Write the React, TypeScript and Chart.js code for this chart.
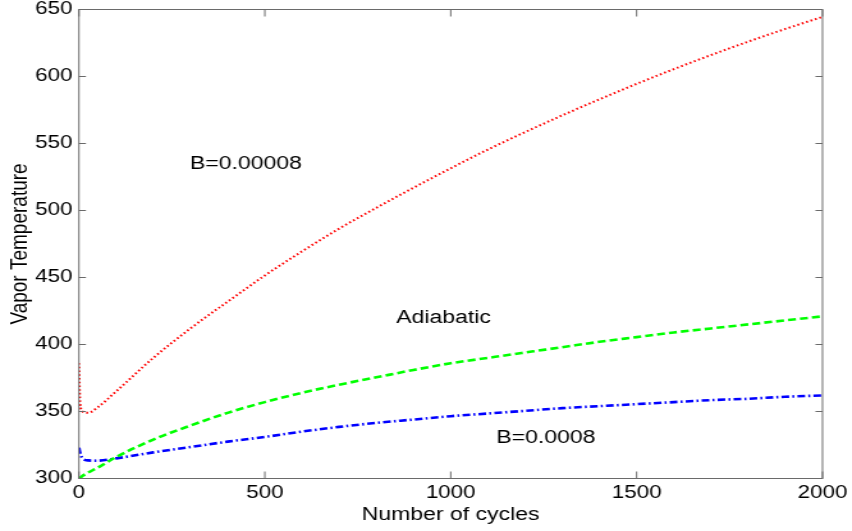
import React, { useEffect, useRef } from "react";
import { Chart, registerables } from "chart.js";

Chart.register(...registerables);

// ---- data ----
const cycles = [0, 3, 10, 25, 50, 100, 200, 300, 400, 500, 600, 700, 800, 900, 1000, 1100, 1200, 1300, 1400, 1500, 1600, 1700, 1800, 1900, 2000];
const tempB00008 = [386, 356, 350, 349, 353, 365, 390, 412, 432, 451.5, 469.5, 486.5, 502, 517, 531.5, 545.5, 558.5, 571, 583, 594.5, 605.5, 616, 626, 635.5, 644.5];
const tempAdiabatic = [300, 300.5, 302, 304.5, 308, 316, 329, 339.5, 349, 357, 364, 370, 375.5, 381, 386, 390, 394, 398, 402, 405.5, 409, 412, 415, 418, 421];
const tempB0008 = [323, 319, 315, 313.5, 313.3, 315, 319.5, 323.5, 327.5, 331, 335, 338.5, 341.5, 344, 346.5, 348.5, 350.5, 352.5, 354, 355.5, 357, 358.5, 359.5, 361, 362];

const annotationTexts = ["B=0.00008", "Adiabatic", "B=0.0008"];
const annotationCycles = [449, 981, 1256];
const annotationTemps = [535, 419.6, 330];

const xTitle = "Number of cycles";
const yTitle = "Vapor Temperature";

// ---- layout ----
const SCREEN_W = 852;
const SCREEN_H = 531;
const STRETCH = 1.28;
const W = Math.round(SCREEN_W / STRETCH);
const H = SCREEN_H;
const FONT = '"Liberation Sans", Arial, Helvetica, sans-serif';

const toPoints = (ys: number[]) => cycles.map((c, i) => ({ x: c, y: ys[i] }));

const boxPlugin = {
  id: "matlabBox",
  afterDatasetsDraw(chart: any) {
    const { ctx, chartArea: a, scales } = chart;
    const xs = scales.x;
    const ys = scales.y;
    ctx.save();
    ctx.strokeStyle = "#6a6a6a";
    ctx.lineWidth = 1;
    ctx.strokeRect(a.left, a.top, a.right - a.left, a.bottom - a.top);
    ctx.beginPath();
    const tlY = 5.5;
    const tlX = 7;
    ys.ticks.forEach((t: any) => {
      const py = ys.getPixelForValue(t.value);
      ctx.moveTo(a.left, py);
      ctx.lineTo(a.left + tlY, py);
      ctx.moveTo(a.right, py);
      ctx.lineTo(a.right - tlY, py);
    });
    xs.ticks.forEach((t: any) => {
      const px = xs.getPixelForValue(t.value);
      ctx.moveTo(px, a.bottom);
      ctx.lineTo(px, a.bottom - tlX);
      ctx.moveTo(px, a.top);
      ctx.lineTo(px, a.top + tlX);
    });
    ctx.stroke();

    ctx.fillStyle = "#000";
    ctx.font = `18px ${FONT}`;
    ctx.textAlign = "center";
    ctx.textBaseline = "middle";
    annotationTexts.forEach((txt, i) => {
      ctx.fillText(txt, xs.getPixelForValue(annotationCycles[i]), ys.getPixelForValue(annotationTemps[i]));
    });
    ctx.restore();
  },
};

export default function App() {
  const ref = useRef<HTMLCanvasElement>(null);

  useEffect(() => {
    const canvas = ref.current!;
    const chart = new Chart(canvas, {
      type: "line",
      data: {
        datasets: [
          {
            label: "B=0.00008",
            data: toPoints(tempB00008),
            borderColor: "#ff0000",
            borderWidth: 2,
            borderDash: [1.5, 2.2],
            pointRadius: 0,
            fill: false,
            cubicInterpolationMode: "monotone",
          },
          {
            label: "Adiabatic",
            data: toPoints(tempAdiabatic),
            borderColor: "#00ff00",
            borderWidth: 2.6,
            borderDash: [6.2, 3.2],
            pointRadius: 0,
            fill: false,
            cubicInterpolationMode: "monotone",
          },
          {
            label: "B=0.0008",
            data: toPoints(tempB0008),
            borderColor: "#0000ff",
            borderWidth: 2.6,
            borderDash: [6, 2.5, 1.5, 2.5],
            pointRadius: 0,
            fill: false,
            cubicInterpolationMode: "monotone",
          },
        ],
      },
      options: {
        responsive: false,
        animation: false,
        devicePixelRatio: 1,
        layout: { padding: { left: 0, right: W - 823 / STRETCH, top: 9.5, bottom: 0 } },
        plugins: {
          legend: { display: false },
          tooltip: { enabled: false },
        },
        scales: {
          x: {
            type: "linear",
            min: 0,
            max: 2000,
            grid: { display: false, drawTicks: false },
            border: { display: false },
            ticks: {
              stepSize: 500,
              color: "#000",
              padding: 4,
              maxRotation: 0,
              font: { family: FONT, size: 17.5 },
              callback: (v: any) => String(v),
            },
            title: {
              display: true,
              text: xTitle,
              color: "#000",
              font: { family: FONT, size: 18 },
              padding: { top: 0, bottom: 5 },
            },
            afterFit: (s: any) => {
              s.height = SCREEN_H - 478.5;
              s.paddingLeft = 0;
              s.paddingRight = 0;
            },
          },
          y: {
            type: "linear",
            min: 300,
            max: 650,
            grid: { display: false, drawTicks: false },
            border: { display: false },
            ticks: {
              stepSize: 50,
              color: "#000",
              padding: 5,
              font: { family: FONT, size: 17.5 },
              callback: (v: any) => String(v),
            },
            title: {
              display: true,
              text: yTitle,
              color: "#000",
              font: { family: FONT, size: 19 },
              padding: { top: 4, bottom: 0 },
            },
            afterFit: (s: any) => {
              s.width = 79 / STRETCH;
              s.paddingTop = 0;
              s.paddingBottom = 0;
            },
          },
        },
      },
      plugins: [boxPlugin],
    } as any);
    return () => chart.destroy();
  }, []);

  return (
    <canvas
      ref={ref}
      width={W}
      height={H}
      style={{
        position: "absolute",
        left: 0,
        top: 0,
        width: `${SCREEN_W}px`,
        height: `${SCREEN_H}px`,
        background: "#fff",
      }}
    />
  );
}
